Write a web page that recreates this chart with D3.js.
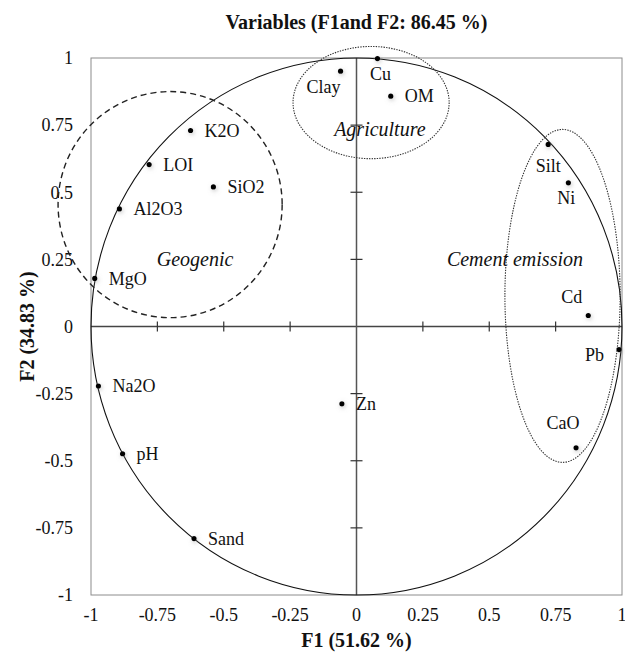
<!DOCTYPE html>
<html>
<head>
<meta charset="utf-8">
<script src="https://cdn.jsdelivr.net/npm/d3@7"></script>
<style>
    body { margin: 0; background: #fff; }
    text { font-family: "Liberation Serif", "Times New Roman", serif; fill: #111; }
</style>
</head>
<body>
<div id="svg"></div>
<script>
// Variable loadings on F1 / F2
let names = ["K2O", "LOI", "SiO2", "Al2O3", "MgO", "Na2O", "pH", "Sand", "Zn",
             "Clay", "Cu", "OM", "Silt", "Ni", "Cd", "Pb", "CaO"];
let f1 = [-0.625, -0.781, -0.539, -0.893, -0.986, -0.972, -0.881, -0.612, -0.055,
          -0.060, 0.079, 0.129, 0.722, 0.798, 0.873, 0.989, 0.827];
let f2 = [0.730, 0.603, 0.520, 0.438, 0.179, -0.222, -0.474, -0.790, -0.288,
          0.951, 0.998, 0.858, 0.678, 0.535, 0.041, -0.086, -0.452];

// Group outlines (centre and radii in loading units)
let groupNames = ["Geogenic", "Agriculture", "Cement emission"];
let groupCx = [-0.702, 0.055, 0.776];
let groupCy = [0.454, 0.834, 0.114];
let groupRx = [0.422, 0.294, 0.217];
let groupRy = [0.421, 0.209, 0.620];
let groupLabelX = [-0.608, 0.088, 0.853];
let groupLabelY = [0.253, 0.734, 0.250];

let ticks = [-1, -0.75, -0.5, -0.25, 0, 0.25, 0.5, 0.75, 1];

let title = "Variables (F1and F2: 86.45 %)";
let xTitle = "F1 (51.62 %)";
let yTitle = "F2 (34.83 %)";

// label placement relative to the dot: [dx, dy, anchor]
let labelPos = {
    "Clay": [0, 16, "end"], "Cu": [3, 15, "middle"], "Silt": [0, 21, "middle"],
    "Ni": [-2, 15, "middle"], "Cd": [-6, -19, "end"], "Pb": [-15, 5, "end"],
    "CaO": [-13, -25, "middle"]
};

let width = 625;
let height = 655;
let margin = ({ top: 58, right: 3, bottom: 60, left: 91 });

let x = d3.scaleLinear().domain([-1, 1]).range([margin.left, width - margin.right]);
let y = d3.scaleLinear().domain([-1, 1]).range([height - margin.bottom, margin.top]);
let fmt = d => d === 0 ? "0" : String(d);

let svg = d3.select("#svg").append("svg")
    .attr("width", width)
    .attr("height", height);

// soft shadow under the dots
let shadow = svg.append("defs").append("filter")
    .attr("id", "shadow")
    .attr("x", "-200%").attr("y", "-200%")
    .attr("width", "500%").attr("height", "500%");
shadow.append("feDropShadow")
    .attr("dx", 1).attr("dy", 1.5)
    .attr("stdDeviation", 2)
    .attr("flood-color", "#888")
    .attr("flood-opacity", 0.5);

// plot frame
svg.append("rect")
    .attr("x", x(-1)).attr("y", y(1))
    .attr("width", x(1) - x(-1))
    .attr("height", y(-1) - y(1))
    .attr("fill", "none")
    .attr("stroke", "#8c8c8c")
    .attr("stroke-width", 1);

// zero axes with crossing ticks
svg.append("line")
    .attr("x1", x(-1)).attr("x2", x(1))
    .attr("y1", y(0)).attr("y2", y(0))
    .attr("stroke", "#444").attr("stroke-width", 1.5);
svg.append("line")
    .attr("x1", x(0)).attr("x2", x(0))
    .attr("y1", y(-1)).attr("y2", y(1))
    .attr("stroke", "#555").attr("stroke-width", 1.5);

svg.append("g").selectAll("line")
    .data(ticks.filter(d => d > -1 && d < 1 && d !== 0))
    .join("line")
    .attr("x1", d => x(d)).attr("x2", d => x(d))
    .attr("y1", y(0) - 5).attr("y2", y(0) + 5)
    .attr("stroke", "#333").attr("stroke-width", 1.2);

svg.append("g").selectAll("line")
    .data(ticks.filter(d => d > -1 && d < 1 && d !== 0))
    .join("line")
    .attr("y1", d => y(d)).attr("y2", d => y(d))
    .attr("x1", x(0) - 6).attr("x2", x(0) + 6)
    .attr("stroke", "#333").attr("stroke-width", 1.2);

// tick labels
svg.append("g").selectAll("text")
    .data(ticks)
    .join("text")
    .attr("x", d => x(d))
    .attr("y", y(-1) + 20)
    .attr("dy", "0.35em")
    .attr("text-anchor", "middle")
    .style("font-size", "18px")
    .text(fmt);

svg.append("g").selectAll("text")
    .data(ticks)
    .join("text")
    .attr("x", x(-1) - 18)
    .attr("y", d => y(d))
    .attr("dy", "0.35em")
    .attr("text-anchor", "end")
    .style("font-size", "18px")
    .text(fmt);

// correlation circle
svg.append("ellipse")
    .attr("cx", x(0)).attr("cy", y(0))
    .attr("rx", x(1) - x(0)).attr("ry", y(0) - y(1))
    .attr("fill", "none")
    .attr("stroke", "#111")
    .attr("stroke-width", 1.1);

// group outlines
let groups = groupNames.map((g, i) => ({ name: g, cx: groupCx[i], cy: groupCy[i], rx: groupRx[i], ry: groupRy[i], lx: groupLabelX[i], ly: groupLabelY[i] }));

svg.append("g").selectAll("ellipse")
    .data(groups)
    .join("ellipse")
    .attr("cx", d => x(d.cx)).attr("cy", d => y(d.cy))
    .attr("rx", d => x(d.rx) - x(0)).attr("ry", d => y(0) - y(d.ry))
    .attr("fill", "none")
    .attr("stroke", (d, i) => i === 0 ? "#222" : "#333")
    .attr("stroke-width", (d, i) => i === 0 ? 1.4 : 1.1)
    .attr("stroke-dasharray", (d, i) => i === 0 ? "6,4" : "1.4,1.2");

svg.append("g").selectAll("text")
    .data(groups)
    .join("text")
    .attr("x", d => x(d.lx)).attr("y", d => y(d.ly))
    .attr("dy", "0.35em")
    .attr("text-anchor", (d, i) => i === 2 ? "end" : "middle")
    .style("font-size", "20px")
    .style("font-style", "italic")
    .text(d => d.name);

// variable points
let pts = names.map((n, i) => ({ name: n, f1: f1[i], f2: f2[i] }));

svg.append("g").selectAll("circle")
    .data(pts)
    .join("circle")
    .attr("cx", d => x(d.f1)).attr("cy", d => y(d.f2))
    .attr("r", 2.6)
    .attr("fill", "#000")
    .attr("filter", "url(#shadow)");

svg.append("g").selectAll("text")
    .data(pts)
    .join("text")
    .attr("x", d => x(d.f1) + (labelPos[d.name] ? labelPos[d.name][0] : 14))
    .attr("y", d => y(d.f2) + (labelPos[d.name] ? labelPos[d.name][1] : 0))
    .attr("dy", "0.35em")
    .attr("text-anchor", d => labelPos[d.name] ? labelPos[d.name][2] : "start")
    .style("font-size", "18px")
    .text(d => d.name);

// titles
svg.append("text")
    .attr("x", (x(-1) + x(1)) / 2)
    .attr("y", 22)
    .attr("dy", "0.35em")
    .attr("text-anchor", "middle")
    .style("font-size", "20px")
    .style("font-weight", "bold")
    .text(title);

svg.append("text")
    .attr("x", (x(-1) + x(1)) / 2)
    .attr("y", 640)
    .attr("dy", "0.35em")
    .attr("text-anchor", "middle")
    .style("font-size", "20px")
    .style("font-weight", "bold")
    .text(xTitle);

svg.append("text")
    .attr("transform", `translate(27, ${(y(-1) + y(1)) / 2}) rotate(-90)`)
    .attr("dy", "0.35em")
    .attr("text-anchor", "middle")
    .style("font-size", "20px")
    .style("font-weight", "bold")
    .text(yTitle);
</script>
</body>
</html>
